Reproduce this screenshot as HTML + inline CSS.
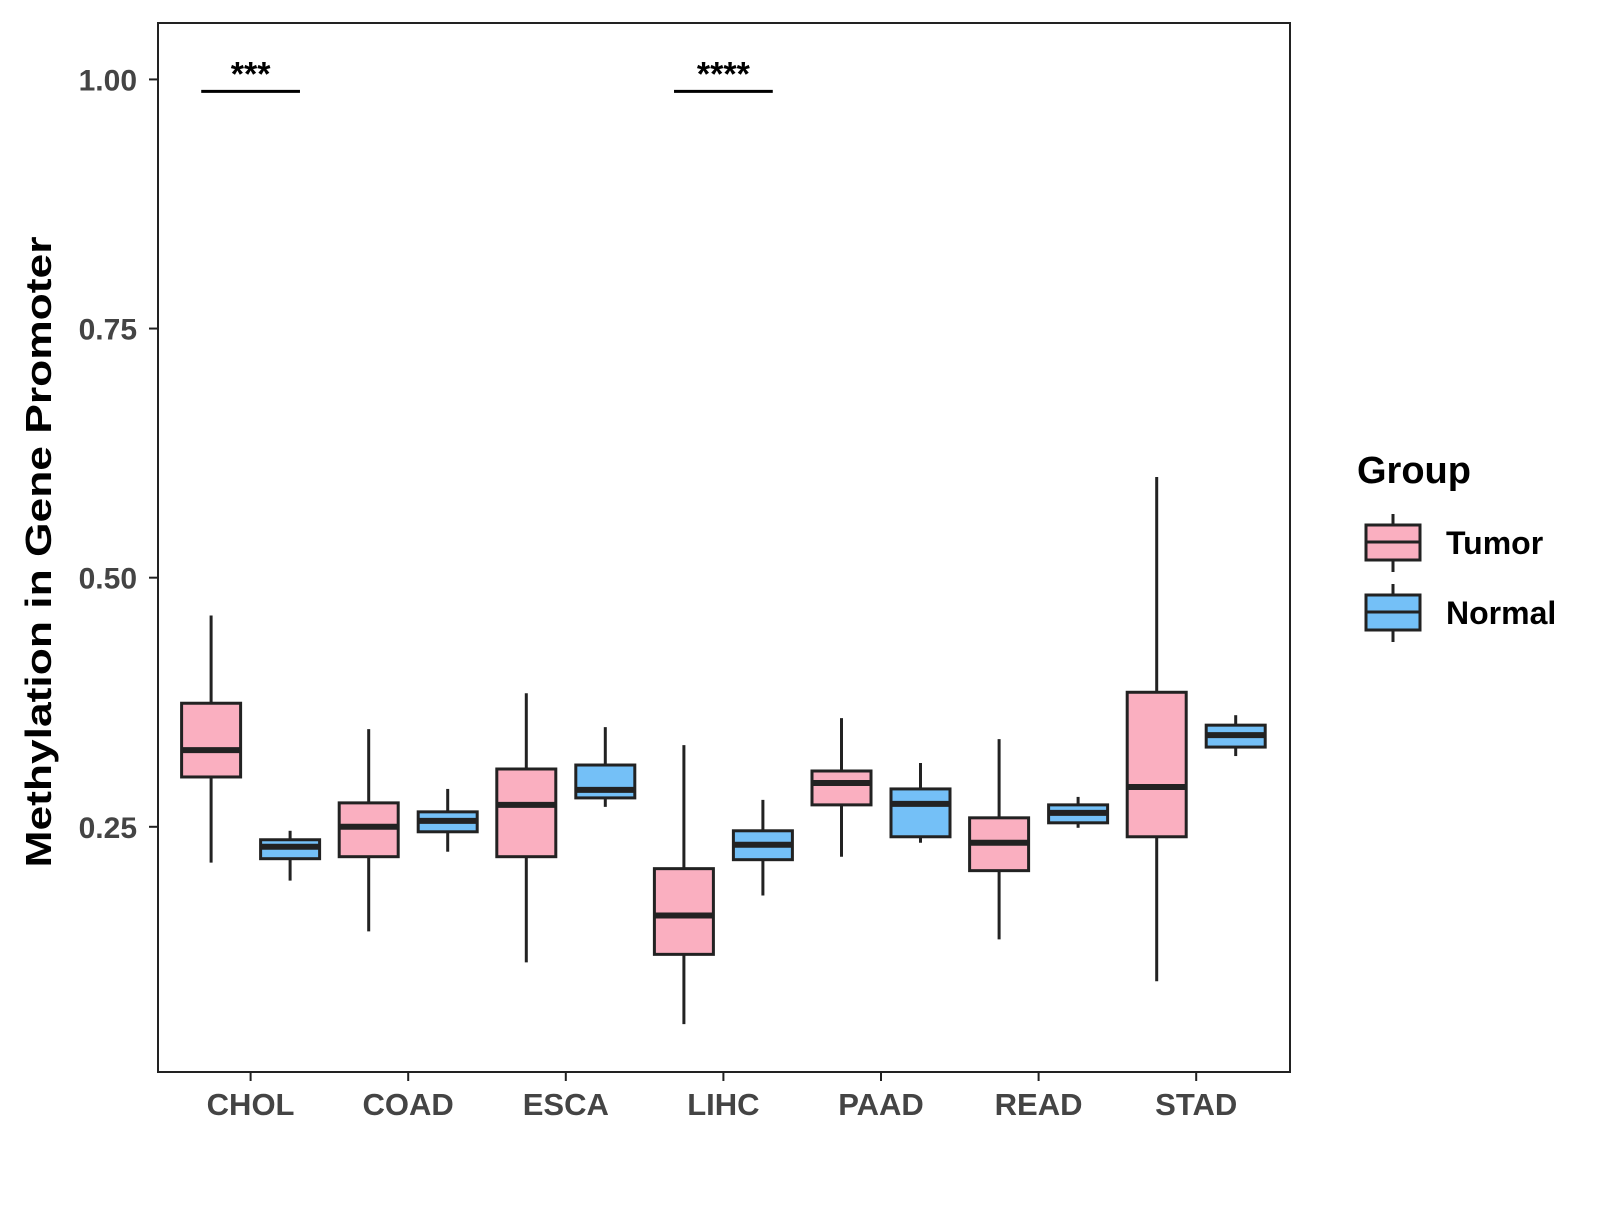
<!DOCTYPE html>
<html><head><meta charset="utf-8"><style>
html,body{margin:0;padding:0;background:#fff;}
svg text{font-family:"Liberation Sans",Arial,sans-serif;font-weight:bold;}
</style></head><body>
<svg id="chart" width="1600" height="1200" viewBox="0 0 1600 1200" xmlns="http://www.w3.org/2000/svg">
<rect x="0" y="0" width="1600" height="1200" fill="#fff"/>
<g id="plot"></g>
<rect x="158" y="23" width="1132" height="1049" fill="none" stroke="#222" stroke-width="2"/>
<text x="0" y="0" transform="translate(51,552) rotate(-90)" text-anchor="middle" font-size="36" fill="#000" textLength="631" lengthAdjust="spacingAndGlyphs">Methylation in Gene Promoter</text>
<g>
<text x="1357" y="483" font-size="38" fill="#000">Group</text>
<g>
<line x1="1393" y1="514" x2="1393" y2="572" stroke="#222" stroke-width="3"/>
<rect x="1366" y="525" width="54" height="35" fill="#FAAFC0" stroke="#222" stroke-width="3"/>
<line x1="1366" y1="542" x2="1420" y2="542" stroke="#222" stroke-width="3"/>
<text x="1446" y="554" font-size="32" fill="#000">Tumor</text>
</g>
<g>
<line x1="1393" y1="584" x2="1393" y2="642" stroke="#222" stroke-width="3"/>
<rect x="1366" y="595" width="54" height="35" fill="#74C0F7" stroke="#222" stroke-width="3"/>
<line x1="1366" y1="612" x2="1420" y2="612" stroke="#222" stroke-width="3"/>
<text x="1446" y="624" font-size="32" fill="#000">Normal</text>
</g>
</g>
</svg>
<script>
const categories = ["CHOL","COAD","ESCA","LIHC","PAAD","READ","STAD"];
// [lowWhisker, Q1, median, Q3, highWhisker]
const tumorStats = [
 [0.214,0.300,0.327,0.374,0.462],
 [0.145,0.220,0.250,0.274,0.348],
 [0.114,0.220,0.272,0.308,0.384],
 [0.052,0.122,0.161,0.208,0.332],
 [0.220,0.272,0.294,0.306,0.359],
 [0.137,0.206,0.234,0.259,0.338],
 [0.095,0.240,0.290,0.385,0.601]
];
const normalStats = [
 [0.196,0.218,0.230,0.237,0.246],
 [0.225,0.245,0.256,0.265,0.288],
 [0.270,0.279,0.287,0.312,0.350],
 [0.181,0.217,0.232,0.246,0.277],
 [0.234,0.240,0.273,0.288,0.314],
 [0.249,0.254,0.264,0.272,0.280],
 [0.321,0.330,0.342,0.352,0.362]
];
const yTicks = [0.25,0.50,0.75,1.00];
const yTickLabels = ["0.25","0.50","0.75","1.00"];
const sigCategories = ["CHOL","LIHC"];
const sigLabels = ["***","****"];
const sigY = [0.988,0.988];

const NS="http://www.w3.org/2000/svg";
const plot=document.getElementById('plot');
const svg=document.getElementById('chart');
function y(v){return 826.8-(v-0.25)*996.5;}
function x(i){return 250.6+i*157.6;}
const dodge=39.5, bw=59;
function mk(tag,attrs,parent){const e=document.createElementNS(NS,tag);for(const k in attrs)e.setAttribute(k,attrs[k]);(parent||plot).appendChild(e);return e;}

function drawBox(cx,s,fill,name){
  const g=mk('g',{});
  
  
  mk('line',{x1:cx,x2:cx,y1:y(s[4]),y2:y(s[0]),stroke:'#222','stroke-width':3},g);
  mk('rect',{x:cx-bw/2,y:y(s[3]),width:bw,height:y(s[1])-y(s[3]),fill:fill,stroke:'#222','stroke-width':3},g);
  mk('line',{x1:cx-bw/2,x2:cx+bw/2,y1:y(s[2]),y2:y(s[2]),stroke:'#222','stroke-width':6},g);
}
categories.forEach((c,i)=>{
  drawBox(x(i)-dodge,tumorStats[i],'#FAAFC0','box-tumor-'+c.toLowerCase());
  drawBox(x(i)+dodge,normalStats[i],'#74C0F7','box-normal-'+c.toLowerCase());
  const t=mk('line',{x1:x(i),x2:x(i),y1:1072,y2:1081,stroke:'#222','stroke-width':2},svg);
  
  
  const lb=mk('text',{x:x(i),y:1115,'text-anchor':'middle','font-size':31,fill:'#444'},svg);
  lb.textContent=c;
  
  
});
yTicks.forEach((v,i)=>{
  const t=mk('line',{x1:149,x2:158,y1:y(v),y2:y(v),stroke:'#222','stroke-width':2},svg);
  
  
  const lb=mk('text',{x:137,y:y(v)+11,'text-anchor':'end','font-size':30,fill:'#444'},svg);
  lb.textContent=yTickLabels[i];
  
  
});
sigCategories.forEach((c,i)=>{
  const ci=categories.indexOf(c);
  const g=mk('g',{});
  
  
  mk('line',{x1:x(ci)-dodge*1.25,x2:x(ci)+dodge*1.25,y1:y(sigY[i]),y2:y(sigY[i]),stroke:'#000','stroke-width':3},g);
  const tx=mk('text',{x:x(ci),y:y(sigY[i])-6,'text-anchor':'middle','font-size':34,fill:'#000'},g);
  tx.textContent=sigLabels[i];
});
</script>
</body></html>
